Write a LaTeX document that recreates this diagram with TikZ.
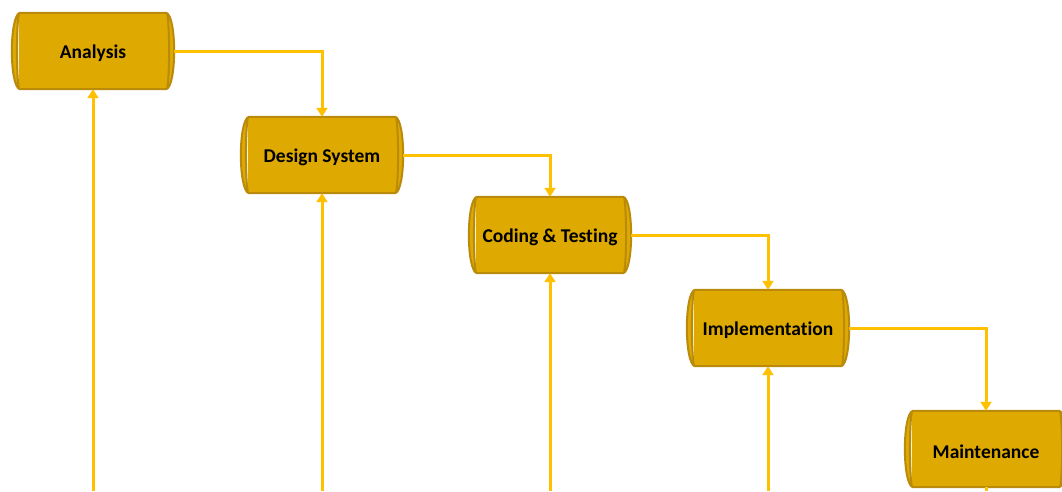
\documentclass[tikz,border=0pt]{standalone}
\usepackage{fontspec}
\newfontfamily\carlito[Ligatures=NoCommon]{Carlito}
\usetikzlibrary{arrows.meta,calc}
\definecolor{drumfill}{RGB}{222,169,0}
\definecolor{drumedge}{RGB}{196,148,8}
\definecolor{drumseam}{RGB}{186,138,10}
\definecolor{flowline}{RGB}{255,192,0}
\tikzset{
  stagebox/.style={minimum width=162pt, minimum height=76pt, inner sep=0pt,
    font=\carlito\bfseries\fontsize{19.5}{21}\selectfont, text=black},
  flow/.style={draw=flowline, line width=3pt,
    -{Triangle[length=9pt,width=11pt]}},
  stub/.style={draw=flowline, line width=3pt},
}
% drum-shaped body drawn around a named node
\newcommand\drumbody[1]{%
  \path let \p1=(#1.north west), \p2=(#1.south east) in
    [fill=drumfill, draw=drumedge, line width=1.3pt]
    (\x1+8pt,\y1) -- (\x2-8pt,\y1)
      .. controls (\x2+2.6pt,\y1-3pt) and (\x2+2.6pt,\y2+3pt) .. (\x2-8pt,\y2)
      -- (\x1+8pt,\y2)
      .. controls (\x1-2.6pt,\y2+3pt) and (\x1-2.6pt,\y1-3pt) .. cycle
    [draw=drumseam, line width=2pt]
    (\x1+7pt,\y1-1pt) .. controls (\x1+4.5pt,\y1-14pt) and (\x1+4.5pt,\y2+14pt) .. (\x1+7pt,\y2+1pt)
    (\x2-7pt,\y1-1pt) .. controls (\x2-4.5pt,\y1-14pt) and (\x2-4.5pt,\y2+14pt) .. (\x2-7pt,\y2+1pt);
}
\newcommand\stage[3]{%
  \node[stagebox] (#1) at (#2) {};
  \drumbody{#1}
  \node[stagebox] at ($(#1)+(0,2.5)$) {#3};
}
\begin{document}
\begin{tikzpicture}[x=1pt,y=-1pt]
  \useasboundingbox (0,0) rectangle (1062,491);
  \clip (0,0) rectangle (1062,491);
  \fill[white] (0,0) rectangle (1062,491);
  \coordinate (base) at (0,491);

  \stage{A}{93,51}{Analysis}
  \stage{D}{322,155}{Design System}
  \stage{C}{550,235}{Coding \& Testing}
  \stage{I}{768,328}{Implementation}
  \stage{M}{986,449}{Maintenance}

  % forward flow between stages
  \draw[flow] (A.east) -| (D.north);
  \draw[flow] (D.east) -| (C.north);
  \draw[flow] (C.east) -| (I.north);
  \draw[flow] (I.east) -| (M.north);

  % feedback lines rising to each stage
  \draw[flow] (A.south |- base) -- (A.south);
  \draw[flow] (D.south |- base) -- (D.south);
  \draw[flow] (C.south |- base) -- (C.south);
  \draw[flow] (I.south |- base) -- (I.south);
  \draw[stub] (M.south) -- (M.south |- base);
\end{tikzpicture}
\end{document}
